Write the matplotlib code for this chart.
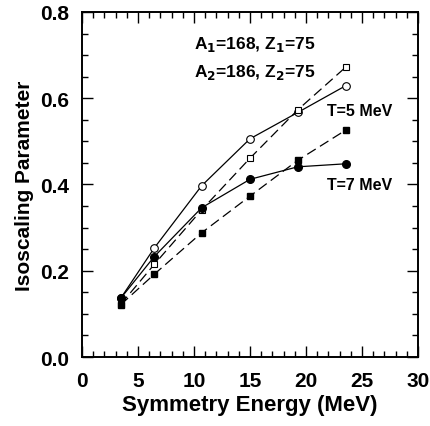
import matplotlib.pyplot as plt
from matplotlib.ticker import MultipleLocator

plt.rcParams['font.family'] = 'Liberation Sans'
plt.rcParams['font.weight'] = 'bold'
plt.rcParams['mathtext.default'] = 'bf'

# symmetry energy (MeV)
x = [3.45, 6.46, 10.68, 15.0, 19.26, 23.54]

# T=5 MeV
t5_circ = [0.136, 0.253, 0.397, 0.506, 0.567, 0.629]
t5_sq = [0.122, 0.215, 0.341, 0.461, 0.573, 0.672]
# T=7 MeV
t7_circ = [0.136, 0.233, 0.346, 0.412, 0.441, 0.448]
t7_sq = [0.121, 0.192, 0.288, 0.373, 0.456, 0.526]

fig = plt.figure(figsize=(4.31, 4.27), dpi=100)
ax = fig.add_axes([82/431, 1 - 358/427, 336/431, 345/427])

ax.plot(x, t5_circ, '-', color='black', lw=0.9, marker='o', ms=5.5,
        mfc='white', mec='black', mew=0.8)
ax.plot(x, t5_sq, '--', color='black', lw=0.9, marker='s', ms=4.5,
        mfc='white', mec='black', mew=0.8, dashes=(8, 4))
ax.plot(x, t7_circ, '-', color='black', lw=0.9, marker='o', ms=5.5,
        mfc='black', mec='black')
ax.plot(x, t7_sq, '--', color='black', lw=0.9, marker='s', ms=4.8,
        mfc='black', mec='black', dashes=(8, 4))

ax.set_xlim(0, 30)
ax.set_ylim(0, 0.8)
ax.xaxis.set_major_locator(MultipleLocator(5))
ax.xaxis.set_minor_locator(MultipleLocator(1))
ax.yaxis.set_major_locator(MultipleLocator(0.2))
ax.yaxis.set_minor_locator(MultipleLocator(0.05))
ax.yaxis.set_major_formatter(plt.FuncFormatter(lambda v, p: f'{v:.1f}'))
ax.tick_params(which='both', direction='in', top=True, right=True, width=1)
ax.tick_params(which='major', length=8, labelsize=15)
ax.tick_params(which='minor', length=4.5)
ax.tick_params(axis='y', which='major', pad=9)
ax.tick_params(axis='x', which='major', pad=10)
for s in ax.spines.values():
    s.set_linewidth(1.4)

ax.set_xlabel('Symmetry Energy (MeV)', fontsize=16, fontweight='bold', labelpad=3)
ax.set_ylabel('Isoscaling Parameter', fontsize=15, fontweight='bold', labelpad=5)

ax.text(10, 0.716, r'A$_1$=168, Z$_1$=75', fontsize=12.5, fontweight='bold')
ax.text(10, 0.652, r'A$_2$=186, Z$_2$=75', fontsize=12.5, fontweight='bold')
ax.text(21.9, 0.56, 'T=5 MeV', fontsize=11.5, fontweight='bold')
ax.text(21.9, 0.39, 'T=7 MeV', fontsize=11.5, fontweight='bold')

fig.savefig('out.png', dpi=100)
